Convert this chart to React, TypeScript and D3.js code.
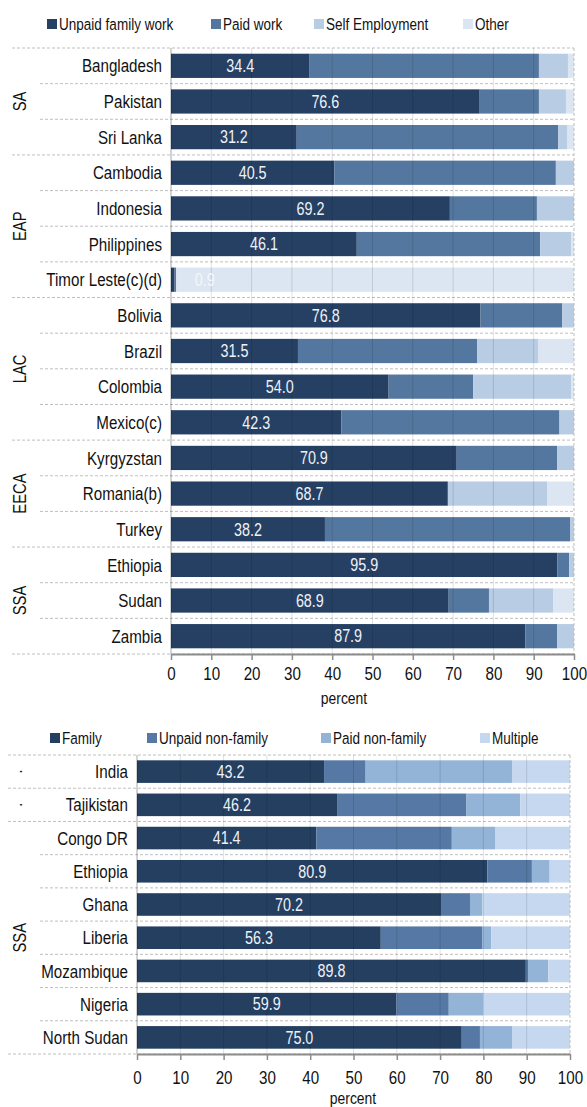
import React, { useRef, useEffect } from 'react';
import { scaleLinear, scaleBand, select, axisBottom, stack, range } from 'd3';

const FONT = '"Liberation Sans Narrow", "Arial Narrow", "Liberation Sans", Arial, sans-serif';
// no narrow face installed here, so squeeze the regular one horizontally
const SQUEEZE = 0.82;

// ---- top chart data ----
const TOP_COUNTRIES = [
  'Bangladesh', 'Pakistan', 'Sri Lanka',
  'Cambodia', 'Indonesia', 'Philippines', 'Timor Leste(c)(d)',
  'Bolivia', 'Brazil', 'Colombia', 'Mexico(c)',
  'Kyrgyzstan', 'Romania(b)', 'Turkey',
  'Ethiopia', 'Sudan', 'Zambia',
];
const TOP_GROUP_LABELS = ['SA', 'EAP', 'LAC', 'EECA', 'SSA'];
const TOP_GROUP_SIZES = [3, 4, 4, 3, 3];
const TOP_KEYS = ['Unpaid family work', 'Paid work', 'Self Employment', 'Other'];
const UNPAID_FAMILY = [34.4, 76.6, 31.2, 40.5, 69.2, 46.1, 0.9, 76.8, 31.5, 54.0, 42.3, 70.9, 68.7, 38.2, 95.9, 68.9, 87.9];
const PAID_WORK = [56.9, 14.7, 64.9, 55.0, 21.6, 45.5, 0.4, 20.3, 44.5, 21.0, 54.1, 24.9, 0, 60.9, 2.9, 10.0, 7.9];
const SELF_EMPLOYMENT = [7.2, 6.7, 2.3, 4.5, 9.2, 7.7, 0, 2.9, 15.2, 24.3, 3.6, 4.2, 24.6, 0.9, 1.2, 15.9, 4.2];
const OTHER = [1.5, 2.0, 1.6, 0, 0, 0.7, 98.7, 0, 8.8, 0.7, 0, 0, 6.7, 0, 0, 5.2, 0];
const TOP_COLORS = ['#264063', '#54779f', '#b8cce4', '#dce6f2'];

// ---- bottom chart data ----
const BOTTOM_COUNTRIES = [
  'India', 'Tajikistan', 'Congo DR', 'Ethiopia', 'Ghana',
  'Liberia', 'Mozambique', 'Nigeria', 'North Sudan',
];
const BOTTOM_GROUP_LABELS = ['·', '·', 'SSA'];
const BOTTOM_GROUP_SIZES = [1, 1, 7];
const BOTTOM_KEYS = ['Family', 'Unpaid non-family', 'Paid non-family', 'Multiple'];
const FAMILY = [43.2, 46.2, 41.4, 80.9, 70.2, 56.3, 89.8, 59.9, 75.0];
const UNPAID_NON_FAMILY = [9.6, 29.9, 31.3, 10.3, 6.7, 23.4, 0.5, 12.1, 4.2];
const PAID_NON_FAMILY = [33.8, 12.4, 10.1, 4.1, 2.8, 2.1, 4.7, 7.9, 7.4];
const MULTIPLE = [13.4, 11.5, 17.2, 4.7, 20.3, 18.2, 5.0, 20.1, 13.4];
const BOTTOM_COLORS = ['#253f60', '#5578a4', '#93b3d7', '#c6d8ef'];

const TICKS = range(0, 101, 10);

const CHARTS = [
  {
    countries: TOP_COUNTRIES,
    groupLabels: TOP_GROUP_LABELS,
    groupSizes: TOP_GROUP_SIZES,
    keys: TOP_KEYS,
    values: [UNPAID_FAMILY, PAID_WORK, SELF_EMPLOYMENT, OTHER],
    colors: TOP_COLORS,
    left: 171, right: 574, top: 48, bottom: 654,
    groupX: 20, groupLineX: 12, rowLineX: 40, legendY: 24,
    legendX: [47, 211, 314, 463],
    tickPad: 7, titleX: 344, titleY: 704,
  },
  {
    countries: BOTTOM_COUNTRIES,
    groupLabels: BOTTOM_GROUP_LABELS,
    groupSizes: BOTTOM_GROUP_SIZES,
    keys: BOTTOM_KEYS,
    values: [FAMILY, UNPAID_NON_FAMILY, PAID_NON_FAMILY, MULTIPLE],
    colors: BOTTOM_COLORS,
    left: 137, right: 570, top: 755, bottom: 1054,
    groupX: 20, groupLineX: 8, rowLineX: 40, legendY: 738,
    legendX: [50, 147, 321, 480],
    tickPad: 11, titleX: 353, titleY: 1104,
  },
];

const at = (x, y, extra = '') => `translate(${x},${y}) ${extra} scale(${SQUEEZE},1)`;

const drawChart = (g, cfg) => {
  const x = scaleLinear().domain([0, 100]).range([cfg.left, cfg.right]);
  const y = scaleBand()
    .domain(cfg.countries)
    .range([cfg.top, cfg.bottom])
    .paddingInner(0.32)
    .paddingOuter(0.16);
  const step = y.step();

  const rows = cfg.countries.map((c, i) => {
    const row = { country: c };
    cfg.keys.forEach((k, j) => (row[k] = cfg.values[j][i]));
    return row;
  });
  const series = stack().keys(cfg.keys)(rows);

  // legend
  const legend = g.append('g');
  cfg.keys.forEach((k, i) => {
    legend
      .append('rect')
      .attr('x', cfg.legendX[i])
      .attr('y', cfg.legendY - 5)
      .attr('width', 10)
      .attr('height', 10)
      .attr('fill', cfg.colors[i]);
    legend
      .append('text')
      .attr('transform', at(cfg.legendX[i] + 12, cfg.legendY))
      .attr('dy', '0.35em')
      .attr('font-size', 16.5)
      .attr('fill', '#111')
      .text(k);
  });

  // row + group separators
  const groupStarts = new Set();
  let acc = 0;
  cfg.groupSizes.forEach((s) => {
    groupStarts.add(acc);
    acc += s;
  });
  groupStarts.add(acc);
  range(0, cfg.countries.length + 1).forEach((k) => {
    const yy = cfg.top + k * step;
    g.append('line')
      .attr('x1', groupStarts.has(k) ? cfg.groupLineX : cfg.rowLineX)
      .attr('x2', cfg.right)
      .attr('y1', yy)
      .attr('y2', yy)
      .attr('stroke', '#bfbfbf')
      .attr('stroke-dasharray', '3,2');
  });

  // bars
  series.forEach((s, i) => {
    g.append('g')
      .attr('fill', cfg.colors[i])
      .selectAll('rect')
      .data(s)
      .join('rect')
      .attr('x', (d) => x(d[0]))
      .attr('y', (d) => y(d.data.country))
      .attr('width', (d) => Math.max(0, x(d[1]) - x(d[0])))
      .attr('height', y.bandwidth());
  });

  // grid on top of bars
  TICKS.forEach((t) => {
    g.append('line')
      .attr('x1', x(t))
      .attr('x2', x(t))
      .attr('y1', cfg.top)
      .attr('y2', cfg.bottom)
      .attr('stroke', t === 100 ? '#bdbdbd' : '#000')
      .attr('stroke-opacity', t === 100 ? 1 : t === 0 ? 0.35 : 0.12)
      .attr('stroke-dasharray', t === 100 ? '3,2' : null);
  });

  // value labels on first series
  g.append('g')
    .selectAll('text')
    .data(series[0])
    .join('text')
    .attr('transform', (d) =>
      at(d[1] < 5 ? x(d[1] + 5) : x(d[1] / 2), y(d.data.country) + y.bandwidth() / 2)
    )
    .attr('dy', '0.36em')
    .attr('text-anchor', (d) => (d[1] < 5 ? 'start' : 'middle'))
    .attr('font-size', 17.5)
    .attr('fill', (d) => (d[1] < 5 ? '#f4f7fb' : '#eef2f8'))
    .text((d) => d[1].toFixed(1));

  // category labels
  g.append('g')
    .selectAll('text')
    .data(cfg.countries)
    .join('text')
    .attr('transform', (c) => at(cfg.left - 9, y(c) + y.bandwidth() / 2))
    .attr('dy', '0.36em')
    .attr('text-anchor', 'end')
    .attr('font-size', 18.5)
    .attr('fill', '#111')
    .text((c) => c);

  // group labels
  acc = 0;
  cfg.groupLabels.forEach((lab, i) => {
    const cy = cfg.top + (acc + cfg.groupSizes[i] / 2) * step;
    acc += cfg.groupSizes[i];
    g.append('text')
      .attr('transform', at(cfg.groupX, cy, 'rotate(-90)'))
      .attr('text-anchor', 'middle')
      .attr('dy', '0.36em')
      .attr('font-size', 18)
      .attr('fill', '#111')
      .text(lab);
  });

  // x axis
  const axis = g
    .append('g')
    .attr('transform', `translate(0, ${cfg.bottom})`)
    .call(axisBottom(x).tickValues(TICKS).tickSize(6).tickPadding(cfg.tickPad).tickSizeOuter(0));
  axis.select('.domain').attr('stroke', '#8c8c8c').attr('stroke-width', 2);
  axis.selectAll('.tick line').attr('stroke', '#8c8c8c').attr('stroke-width', 1.5);
  axis
    .selectAll('.tick text')
    .attr('font-size', 18.5)
    .attr('font-family', FONT)
    .attr('fill', '#111')
    .attr('transform', `scale(${SQUEEZE},1)`);

  g.append('text')
    .attr('transform', at(cfg.titleX, cfg.titleY))
    .attr('text-anchor', 'middle')
    .attr('font-size', 17)
    .attr('fill', '#111')
    .text('percent');
};

export default function App() {
  const svgRef = useRef(null);

  useEffect(() => {
    const svg = select(svgRef.current);
    svg.selectAll('*').remove();
    CHARTS.forEach((cfg) => drawChart(svg.append('g'), cfg));
    return () => svg.selectAll('*').remove();
  }, []);

  return (
    <div style={{ position: 'absolute', left: 0, top: 0, background: '#fff' }}>
      <svg ref={svgRef} width={587} height={1107} style={{ display: 'block', fontFamily: FONT }} />
    </div>
  );
}
